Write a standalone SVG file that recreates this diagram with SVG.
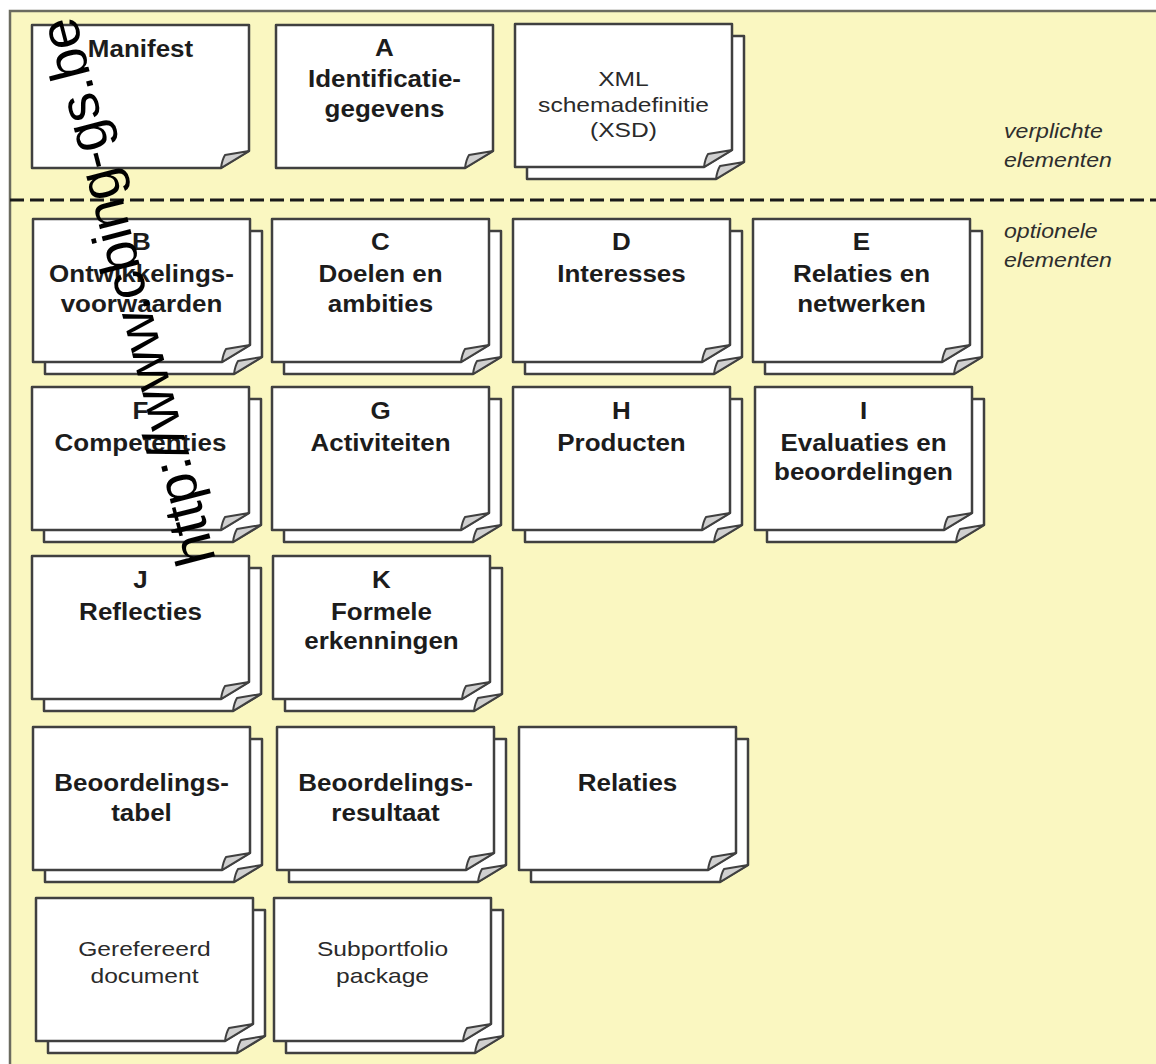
<svg xmlns="http://www.w3.org/2000/svg" xmlns:xlink="http://www.w3.org/1999/xlink" width="1156" height="1064" viewBox="0 0 1156 1064">
<style>
.pg{fill:#ffffff;stroke:#404040;stroke-width:2.5;stroke-linejoin:round}
.fl{fill:#d0d0d0;stroke:#404040;stroke-width:2;stroke-linejoin:round}
.b{font-family:"Liberation Sans",Arial,sans-serif;font-weight:bold;font-size:23px;fill:#1c1c1c;text-anchor:middle}
.r{font-family:"Liberation Sans",Arial,sans-serif;font-size:20.5px;fill:#2a2a2a;text-anchor:middle}
.i{font-family:"Liberation Sans",Arial,sans-serif;font-style:italic;font-size:21px;fill:#2e2e2e}
.wm{font-family:"Liberation Sans",Arial,sans-serif;font-size:56px;fill:#000000}
</style>
<defs>
<g id="sheet">
<path class="pg" d="M0,0 H217 V126 L189,143 H0 Z"/>
<path class="fl" d="M189,143 Q190,135 193,130 Q205,128 217,126 Z"/>
</g>
<g id="stack">
<use xlink:href="#sheet" x="12" y="12"/>
<use xlink:href="#sheet"/>
</g>
</defs>
<rect x="0" y="0" width="1156" height="1064" fill="#ffffff"/>
<rect x="10" y="11" width="1160" height="1070" fill="#faf7c1" stroke="#6b6b5f" stroke-width="2.5"/>
<line x1="10" y1="200" x2="1156" y2="200" stroke="#1a1a1a" stroke-width="3" stroke-dasharray="14 6"/>
<g id="label-verplicht"><g transform="translate(1004,0) scale(1.1,1)"><text class="i" x="0" y="138">verplichte</text><text class="i" x="0" y="167">elementen</text></g></g>
<g id="label-optioneel"><g transform="translate(1004,0) scale(1.1,1)"><text class="i" x="0" y="238">optionele</text><text class="i" x="0" y="267">elementen</text></g></g>
<g id="connectors"></g>

<g id="manifest"><use xlink:href="#sheet" x="32" y="25"/><g transform="translate(140.5,25) scale(1.13,1)"><text class="b" x="0" y="32">Manifest</text></g></g>
<g id="A"><use xlink:href="#sheet" x="276" y="25"/><g transform="translate(384.5,25) scale(1.13,1)"><text class="b" x="0" y="31">A</text><text class="b" x="0" y="62">Identificatie-</text><text class="b" x="0" y="92">gegevens</text></g></g>
<g id="XSD"><use xlink:href="#stack" x="515" y="24"/><g transform="translate(623.5,24) scale(1.2,1)"><text class="r" x="0" y="62">XML</text><text class="r" x="0" y="88">schemadefinitie</text><text class="r" x="0" y="113">(XSD)</text></g></g>

<g id="B"><use xlink:href="#stack" x="33" y="219"/><g transform="translate(141.5,219) scale(1.13,1)"><text class="b" x="0" y="31">B</text><text class="b" x="0" y="63">Ontwikkelings-</text><text class="b" x="0" y="93">voorwaarden</text></g></g>
<g id="C"><use xlink:href="#stack" x="272" y="219"/><g transform="translate(380.5,219) scale(1.13,1)"><text class="b" x="0" y="31">C</text><text class="b" x="0" y="63">Doelen en</text><text class="b" x="0" y="93">ambities</text></g></g>
<g id="D"><use xlink:href="#stack" x="513" y="219"/><g transform="translate(621.5,219) scale(1.13,1)"><text class="b" x="0" y="31">D</text><text class="b" x="0" y="63">Interesses</text></g></g>
<g id="E"><use xlink:href="#stack" x="753" y="219"/><g transform="translate(861.5,219) scale(1.13,1)"><text class="b" x="0" y="31">E</text><text class="b" x="0" y="63">Relaties en</text><text class="b" x="0" y="93">netwerken</text></g></g>

<g id="F"><use xlink:href="#stack" x="32" y="387"/><g transform="translate(140.5,387) scale(1.13,1)"><text class="b" x="0" y="32">F</text><text class="b" x="0" y="64">Competenties</text></g></g>
<g id="G"><use xlink:href="#stack" x="272" y="387"/><g transform="translate(380.5,387) scale(1.13,1)"><text class="b" x="0" y="32">G</text><text class="b" x="0" y="64">Activiteiten</text></g></g>
<g id="H"><use xlink:href="#stack" x="513" y="387"/><g transform="translate(621.5,387) scale(1.13,1)"><text class="b" x="0" y="32">H</text><text class="b" x="0" y="64">Producten</text></g></g>
<g id="I"><use xlink:href="#stack" x="755" y="387"/><g transform="translate(863.5,387) scale(1.13,1)"><text class="b" x="0" y="32">I</text><text class="b" x="0" y="64">Evaluaties en</text><text class="b" x="0" y="93">beoordelingen</text></g></g>

<g id="J"><use xlink:href="#stack" x="32" y="556"/><g transform="translate(140.5,556) scale(1.13,1)"><text class="b" x="0" y="32">J</text><text class="b" x="0" y="64">Reflecties</text></g></g>
<g id="K"><use xlink:href="#stack" x="273" y="556"/><g transform="translate(381.5,556) scale(1.13,1)"><text class="b" x="0" y="32">K</text><text class="b" x="0" y="64">Formele</text><text class="b" x="0" y="93">erkenningen</text></g></g>

<g id="beoordelingstabel"><use xlink:href="#stack" x="33" y="727"/><g transform="translate(141.5,727) scale(1.13,1)"><text class="b" x="0" y="64">Beoordelings-</text><text class="b" x="0" y="94">tabel</text></g></g>
<g id="beoordelingsresultaat"><use xlink:href="#stack" x="277" y="727"/><g transform="translate(385.5,727) scale(1.13,1)"><text class="b" x="0" y="64">Beoordelings-</text><text class="b" x="0" y="94">resultaat</text></g></g>
<g id="relaties"><use xlink:href="#stack" x="519" y="727"/><g transform="translate(627.5,727) scale(1.13,1)"><text class="b" x="0" y="64">Relaties</text></g></g>

<g id="gerefereerd"><use xlink:href="#stack" x="36" y="898"/><g transform="translate(144.5,898) scale(1.2,1)"><text class="r" x="0" y="58">Gerefereerd</text><text class="r" x="0" y="85">document</text></g></g>
<g id="subportfolio"><use xlink:href="#stack" x="274" y="898"/><g transform="translate(382.5,898) scale(1.2,1)"><text class="r" x="0" y="58">Subportfolio</text><text class="r" x="0" y="85">package</text></g></g>

<g id="watermark" transform="translate(216,560) rotate(-104.5)"><text class="wm" x="0" y="0">http://www.cbing-gs.be</text></g>
</svg>
